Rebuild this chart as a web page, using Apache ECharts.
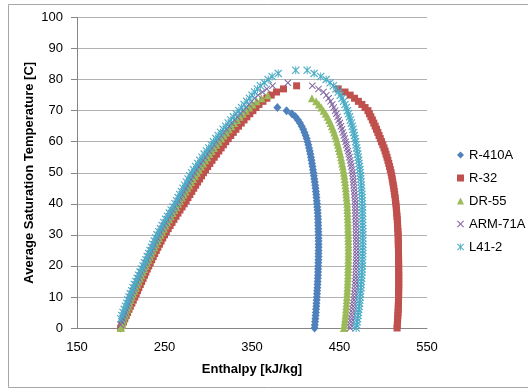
<!DOCTYPE html>
<html>
<head>
<meta charset="utf-8">
<script src="https://cdn.jsdelivr.net/npm/echarts@6/dist/echarts.min.js"></script>
<style>
html,body{margin:0;padding:0;background:#fff;}
#c{width:528px;height:390px;}
</style>
</head>
<body>
<div id="c"></div>
<script>
// Saturation temperatures [C] (index of each enthalpy array)
const temps = [0,1,2,3,4,5,6,7,8,9,10,11,12,13,14,15,16,17,18,19,20,21,22,23,24,25,26,27,28,29,30,31,32,33,34,35,36,37,38,39,40,41,42,43,44,45,46,47,48,49,50,51,52,53,54,55,56,57,58,59,60,61,62,63,64,65,66,67,68,69,70,71,72,73,74,75,76,77,78,79,80,81,82,83];

const seriesNames = ['R-410A','R-32','DR-55','ARM-71A','L41-2'];

// Enthalpy [kJ/kg] - saturated liquid side
const r410aLiq = [200,201.4,202.8,204.2,205.6,207.0,208.4,209.9,211.4,212.9,
 214.4,215.9,217.4,218.9,220.4,221.9,223.5,225.1,226.7,228.3,
 229.9,231.5,233.1,234.8,236.5,238.2,239.9,241.7,243.5,245.3,
 247.1,249.0,250.9,252.8,254.8,256.8,258.8,260.9,263.0,265.1,
 267.2,269.3,271.5,273.7,275.9,278.1,280.4,282.7,285.0,287.3,
 289.6,292.0,294.4,296.9,299.4,302.0,304.6,307.3,310.0,312.8,
 315.6,318.5,321.5,324.6,327.8,331.1,334.6,338.2,342.0,346.0,
 350.5,379];
// saturated vapour side
const r410aVap = [421.5,421.8,422.1,422.4,422.7,423.0,423.2,423.5,423.7,423.9,
 424.1,424.3,424.5,424.7,424.9,425.1,425.2,425.4,425.5,425.6,
 425.7,425.8,425.9,426.0,426.0,426.1,426.1,426.1,426.1,426.0,
 426.0,425.9,425.8,425.7,425.6,425.5,425.3,425.1,424.9,424.6,
 424.3,424.0,423.7,423.4,423.0,422.6,422.2,421.7,421.2,420.7,
 420.2,419.7,419.2,418.6,418.0,417.4,416.7,416.0,415.2,414.4,
 413.5,412.5,411.3,410.0,408.5,406.8,404.8,402.5,399.6,395.6,
 389.5];

const r32Liq = [200,201.5,203.1,204.6,206.2,207.8,209.4,211.0,212.7,214.3,
 216,217.6,219.2,220.7,222.3,223.9,225.5,227.1,228.7,230.3,
 232,233.7,235.4,237.1,238.8,240.6,242.4,244.3,246.1,248.0,
 250,252.1,254.2,256.4,258.6,260.8,263.1,265.4,267.7,270.1,
 272.5,274.7,276.8,279.0,281.2,283.4,285.6,287.8,290.1,292.3,
 294.5,296.9,299.3,301.8,304.3,306.9,309.5,312.1,314.7,317.3,
 320,322.8,325.7,328.6,331.6,334.6,337.7,340.9,344.1,347.5,
 351,354.5,358,362.5,367,372,378,386,401];
const r32Vap = [515.8,516.0,516.3,516.5,516.7,516.9,517.1,517.2,517.3,517.4,
 517.5,517.6,517.6,517.7,517.7,517.7,517.7,517.7,517.7,517.6,
 517.6,517.6,517.5,517.5,517.4,517.4,517.3,517.2,517.2,517.1,
 517.0,516.8,516.6,516.4,516.2,516.0,515.7,515.4,515.1,514.8,
 514.5,514.0,513.6,513.1,512.6,512.1,511.5,510.9,510.3,509.7,
 509.0,508.1,507.2,506.3,505.3,504.3,503.2,502.1,500.9,499.5,
 498.0,496.6,495.2,493.8,492.3,490.8,489.2,487.6,485.9,484.2,
 482.5,479.2,475.6,471.6,467.2,462.2,456.3,448.5];

const dr55Liq = [200,201.2,202.4,203.6,204.8,206.1,207.4,208.7,210.0,211.3,
 212.6,214.1,215.6,217.1,218.7,220.3,221.9,223.5,225.1,226.8,
 228.5,230.1,231.7,233.4,235.0,236.7,238.4,240.1,241.9,243.6,
 245.4,247.3,249.2,251.1,253.1,255.1,257.1,259.2,261.3,263.4,
 265.5,267.6,269.7,271.8,273.9,276.0,278.2,280.4,282.6,284.8,
 287.0,289.3,291.6,294.0,296.4,298.8,301.3,303.9,306.5,309.2,
 312.0,314.8,317.6,320.5,323.5,326.5,329.6,332.8,336.1,339.5,
 343.0,346.7,350.7,355.2,360.7,368.0];
const dr55Vap = [455.0,455.5,456.0,456.4,456.8,457.2,457.5,457.8,458.1,458.3,
 458.5,458.7,458.9,459.1,459.3,459.4,459.6,459.7,459.8,459.9,
 460.0,460.1,460.1,460.2,460.2,460.2,460.2,460.2,460.1,460.1,
 460.0,459.9,459.8,459.7,459.6,459.5,459.3,459.2,459.0,458.9,
 458.7,458.4,458.1,457.8,457.5,457.2,456.8,456.4,455.9,455.5,
 455.0,454.4,453.8,453.1,452.4,451.7,450.9,450.0,449.1,448.2,
 447.3,446.3,445.2,444.0,442.7,441.3,439.8,438.1,436.3,434.2,
 431.8,429.2,426.4,423.3,418.5];

const arm71aLiq = [null,200,201.2,202.4,203.6,204.8,206.0,207.3,208.5,209.8,
 211.0,212.5,214.0,215.5,217.0,218.6,220.2,221.8,223.4,225.2,
 227.0,228.6,230.2,231.8,233.4,235.0,236.7,238.4,240.1,241.8,
 243.5,245.4,247.3,249.3,251.3,253.3,255.4,257.5,259.6,261.8,
 264.0,265.9,267.9,269.8,271.8,273.8,275.8,277.8,279.8,281.9,
 284.0,286.3,288.7,291.1,293.6,296.1,298.6,301.1,303.7,306.3,
 309.0,311.8,314.6,317.5,320.5,323.5,326.6,329.8,333.1,336.5,
 340.0,343.3,346.5,349.7,353.0,357.0,362.0,367.0,373.5,391.0];
const arm71aVap = [462.3,462.9,463.4,463.9,464.4,464.9,465.3,465.7,466.1,466.6,
 467.0,467.3,467.6,467.9,468.1,468.3,468.5,468.7,468.8,468.9,
 469.0,469.1,469.2,469.2,469.3,469.3,469.3,469.3,469.2,469.1,
 469.0,468.9,468.8,468.7,468.6,468.5,468.4,468.3,468.2,468.1,
 468.0,467.8,467.5,467.2,466.9,466.6,466.3,466.0,465.6,465.3,
 464.9,464.3,463.6,462.9,462.2,461.4,460.6,459.7,458.8,457.9,
 457.0,456.0,455.0,453.9,452.8,451.6,450.4,449.1,447.8,446.4,
 445.0,443.4,441.7,439.8,437.6,435.0,431.7,426.0,419.0];

const l412Liq = [null,null,null,200.0,201.3,202.6,204.0,205.4,206.8,208.1,
 209.5,211.0,212.5,214.0,215.6,217.2,218.8,220.4,222.1,223.8,
 225.5,227.1,228.7,230.3,231.9,233.5,235.1,236.7,238.3,239.9,
 241.5,243.4,245.3,247.3,249.3,251.3,253.4,255.5,257.6,259.8,
 262.0,263.8,265.6,267.4,269.3,271.2,273.1,275.0,277.0,279.0,
 281.0,283.3,285.6,288.0,290.4,292.9,295.4,298.0,300.6,303.3,
 306.0,308.7,311.4,314.2,317.0,319.9,322.8,325.8,328.8,331.9,
 335.0,338.0,341.0,344.0,347.0,350.0,353.0,356.2,359.5,364.0,
 368.5,373.0,380.0,400.0];
const l412Vap = [469.0,469.6,470.2,470.7,471.2,471.6,472.0,472.4,472.8,473.2,
 473.5,473.8,474.1,474.4,474.7,475.0,475.2,475.4,475.6,475.8,
 476.0,476.1,476.2,476.3,476.4,476.5,476.5,476.5,476.5,476.5,
 476.5,476.5,476.4,476.4,476.3,476.3,476.2,476.2,476.1,476.1,
 476.0,475.9,475.7,475.5,475.3,475.1,474.9,474.6,474.3,474.0,
 473.6,473.2,472.8,472.3,471.8,471.3,470.8,470.2,469.6,469.0,
 468.4,467.7,467.0,466.2,465.4,464.5,463.5,462.5,461.4,460.3,
 459.1,457.8,456.3,454.7,452.9,450.9,448.6,446.0,443.0,439.3,
 434.7,428.5,421.0,413.0];

const xTicks = [150,250,350,450,550];
const yTicks = [0,10,20,30,40,50,60,70,80,90,100];

function pairs(liq, vap) {
  const out = [];
  liq.forEach((h, i) => { if (h != null) out.push([h, temps[i]]); });
  vap.forEach((h, i) => { if (h != null) out.push([h, temps[i]]); });
  return out;
}

const xPath = 'path://M0,1L1,0L5,4L9,0L10,1L6,5L10,9L9,10L5,6L1,10L0,9L4,5Z';
const starPath = 'path://M0,1L1,0L4.4,3.4L4.4,0L5.6,0L5.6,3.4L9,0L10,1L6,5L10,9L9,10L5.6,6.6L5.6,10L4.4,10L4.4,6.6L1,10L0,9L4,5Z';

const colors = ['#4F81BD','#C0504D','#9BBB59','#8064A2','#4BACC6'];
const symbols = ['diamond','rect','triangle',xPath,starPath];
const sizes = [[8,9],7,[8,8],[7,7],[8,8]];
const dataSets = [
  pairs(r410aLiq, r410aVap),
  pairs(r32Liq, r32Vap),
  pairs(dr55Liq, dr55Vap),
  pairs(arm71aLiq, arm71aVap),
  pairs(l412Liq, l412Vap)
];

const chart = echarts.init(document.getElementById('c'), null, {renderer:'canvas'});
const font = '"Liberation Sans", Arial, sans-serif';
chart.setOption({
  animation: false,
  backgroundColor: '#fff',
  color: colors,
  graphic: [{
    type: 'rect', silent: true,
    shape: {x: 8.5, y: 4.5, width: 540, height: 383},
    style: {fill: 'none', stroke: '#a6a6a6', lineWidth: 1}
  }],
  grid: {left: 77, top: 17.5, width: 350, height: 310.5, containLabel: false},
  legend: {
    orient: 'vertical', left: 452, top: 142,
    itemWidth: 7, itemHeight: 7, itemGap: 7,
    textStyle: {fontFamily: font, fontSize: 13, color: '#000', lineHeight: 16, padding: [0,0,0,0]},
    data: seriesNames
  },
  xAxis: {
    type: 'value', min: 150, max: 550, interval: 100,
    name: 'Enthalpy [kJ/kg]', nameLocation: 'middle', nameGap: 35,
    nameMoveOverlap: false,
    nameTextStyle: {fontFamily: font, fontSize: 13, fontWeight: 'bold', color: '#000'},
    axisLine: {show: true, onZero: false, lineStyle: {color: '#868686', width: 1}},
    axisTick: {show: false},
    axisLabel: {fontFamily: font, fontSize: 13, color: '#000', margin: 13,
      formatter: v => xTicks.includes(v) ? String(v) : ''},
    splitLine: {show: false}
  },
  yAxis: {
    type: 'value', min: 0, max: 100, interval: 10,
    name: 'Average Saturation Temperature [C]', nameLocation: 'middle', nameGap: 41,
    nameMoveOverlap: false,
    nameTextStyle: {fontFamily: font, fontSize: 13, fontWeight: 'bold', color: '#000'},
    axisLine: {show: true, lineStyle: {color: '#868686', width: 1}},
    axisTick: {show: true, length: 6, lineStyle: {color: '#868686'}},
    axisLabel: {fontFamily: font, fontSize: 13, color: '#000', margin: 14,
      formatter: v => yTicks.includes(v) ? String(v) : ''},
    splitLine: {show: true, lineStyle: {color: '#b3b3b3', width: 1}}
  },
  series: seriesNames.map((n, i) => ({
    name: n, type: 'scatter', data: dataSets[i],
    symbol: symbols[i], symbolSize: sizes[i],
    itemStyle: {color: colors[i], opacity: 1},
    emphasis: {disabled: true}
  }))
});
</script>
</body>
</html>
